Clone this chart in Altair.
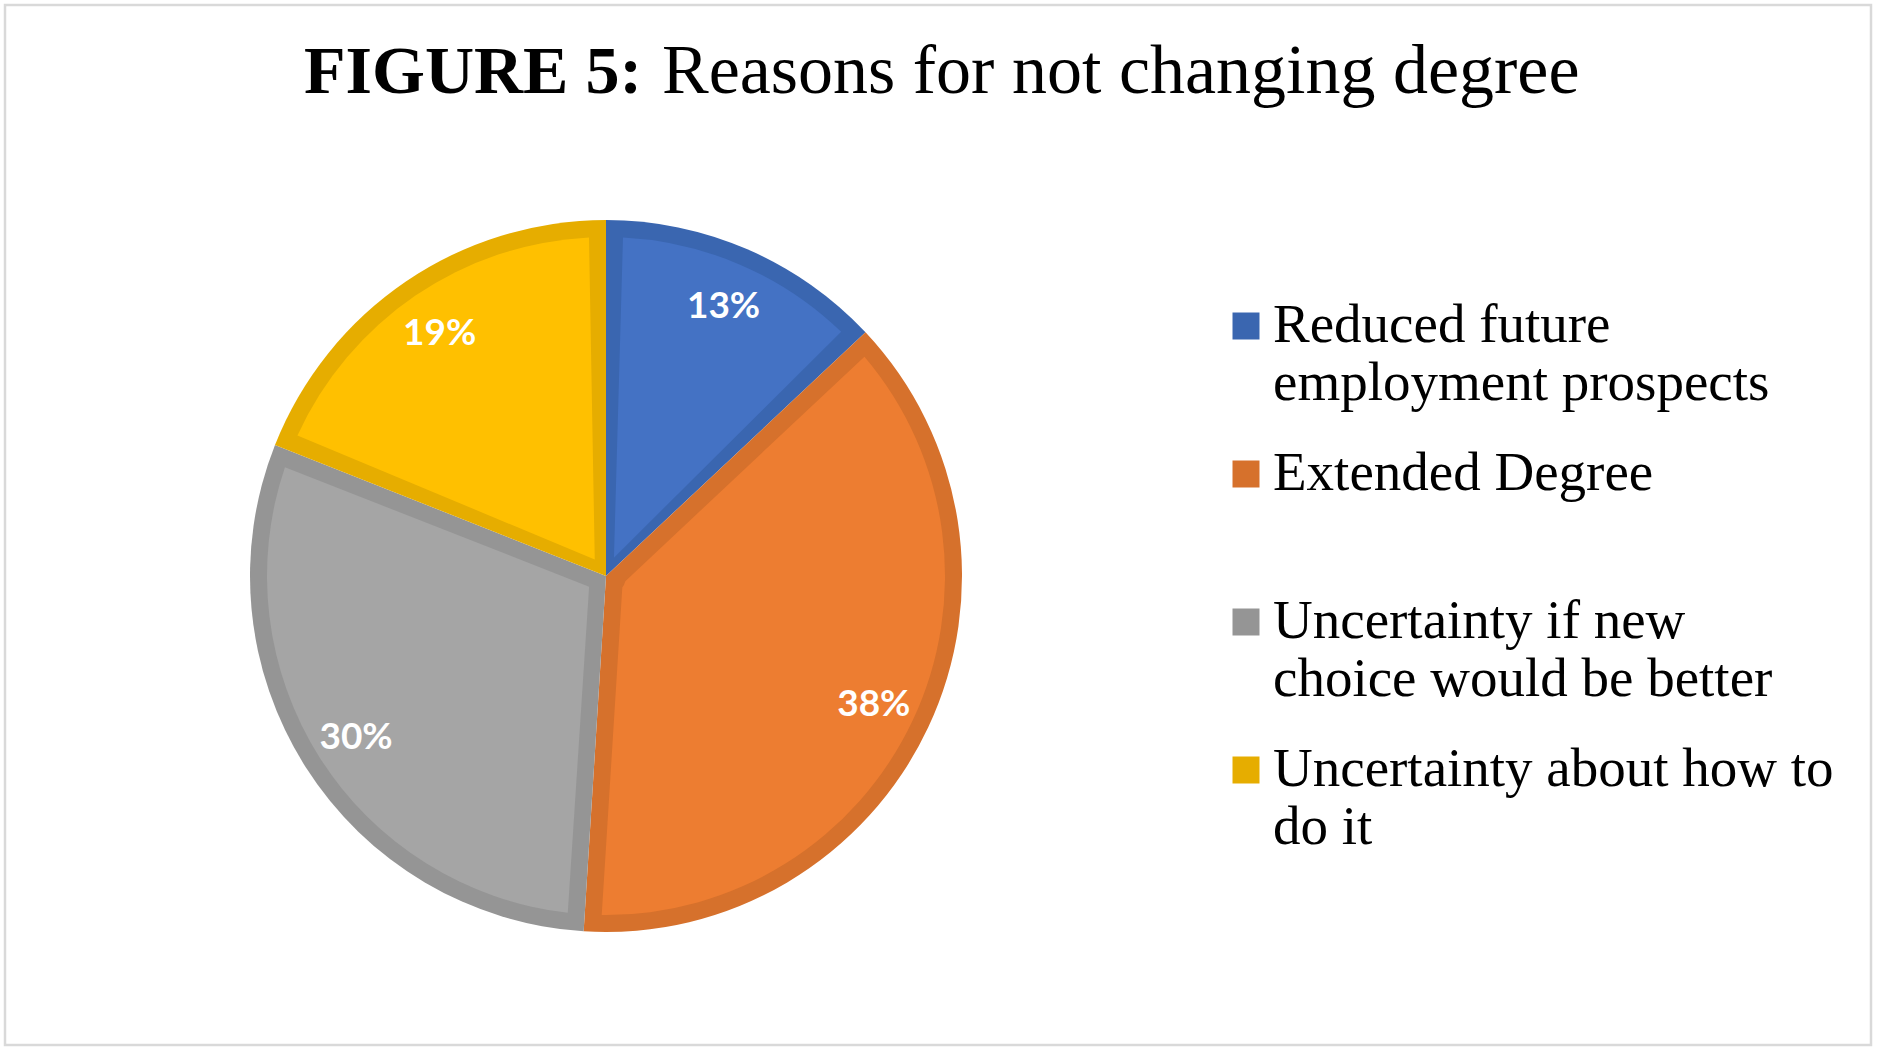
import altair as alt
import pandas as pd

# ---- data ----
categories = [
    "Reduced future employment prospects",
    "Extended Degree",
    "Uncertainty if new choice would be better",
    "Uncertainty about how to do it",
]
legend_labels = [
    "Reduced future\nemployment prospects",
    "Extended Degree",
    "Uncertainty if new\nchoice would be better",
    "Uncertainty about how to\ndo it",
]
values = [13, 38, 30, 19]
ranks = [0, 1, 2, 3]

title_bold = "FIGURE 5:"
title_regular = "Reasons for not changing degree"

fill_colors = ["#4472C4", "#ED7D31", "#A5A5A5", "#FFC000"]
band_colors = ["#3A66B0", "#D6712C", "#959595", "#E6AD00"]

df = pd.DataFrame({
    "category": categories,
    "legend": legend_labels,
    "value": values,
    "rank": ranks,
})

W, H = 1879, 1054
CX, CY = 606, 576
R_OUT = 356
BAND = 17

base = alt.Chart(df)

theta = alt.Theta("value:Q", stack=True)
order = alt.Order("rank:Q", sort="ascending")

dark_pie = base.mark_arc(radius=R_OUT).encode(
    theta=theta,
    order=order,
    x=alt.value(CX),
    y=alt.value(CY),
    fill=alt.Fill("category:N", scale=alt.Scale(domain=categories, range=band_colors), legend=None),
)

light_pie = base.mark_arc(radius=R_OUT - BAND, radius2=20, padAngle=0.1002).encode(
    theta=theta,
    order=order,
    x=alt.value(CX),
    y=alt.value(CY),
    color=alt.Color("category:N", scale=alt.Scale(domain=categories, range=fill_colors), legend=None),
)

labels = base.transform_calculate(
    label="format(datum.value, 'd') + '%'"
).mark_text(
    radius=296, font="Lato", fontWeight="bold", fontSize=37, color="white",
    align="center", baseline="middle", dy=3,
).encode(
    theta=theta,
    order=order,
    x=alt.value(CX),
    y=alt.value(CY),
    text="label:N",
)

leg_y = alt.Y("rank:Q", scale=alt.Scale(domain=[0, 3], range=[326, 770]), axis=None)

leg_squares = base.mark_square(size=27 * 27, opacity=1).encode(
    x=alt.value(1246),
    y=leg_y,
    fill=alt.Fill("category:N", scale=alt.Scale(domain=categories, range=band_colors), legend=None),
)

leg_text = base.mark_text(
    font="Liberation Serif", fontSize=55, align="left", baseline="alphabetic",
    dy=16, lineBreak="\n", lineHeight=58, color="black",
).encode(
    x=alt.value(1273),
    y=leg_y,
    text="legend:N",
)

tdf = pd.DataFrame({"bold": [title_bold], "regular": [title_regular]})
title1 = alt.Chart(tdf).mark_text(
    font="Liberation Serif", fontWeight="bold", fontSize=68, align="left",
    baseline="alphabetic", color="black",
).encode(x=alt.value(304), y=alt.value(93), text="bold:N")
title2 = alt.Chart(tdf).mark_text(
    font="Liberation Serif", fontSize=70, align="left",
    baseline="alphabetic", color="black",
).encode(x=alt.value(662), y=alt.value(93), text="regular:N")

border = alt.Chart(tdf).mark_rect(fill="transparent", stroke="#d9d9d9", strokeWidth=2.5).encode(
    x=alt.value(5), x2=alt.value(1871), y=alt.value(5), y2=alt.value(1045)
)

chart = alt.layer(
    border, dark_pie, light_pie, labels, leg_squares, leg_text, title1, title2
).resolve_scale(
    color="independent", fill="independent"
).properties(
    width=W, height=H, padding=0, autosize=alt.AutoSizeParams(type="none"),
    background="white",
).configure_view(strokeWidth=0)

chart.save("out.html", embed_options={"renderer": "svg", "actions": False})
